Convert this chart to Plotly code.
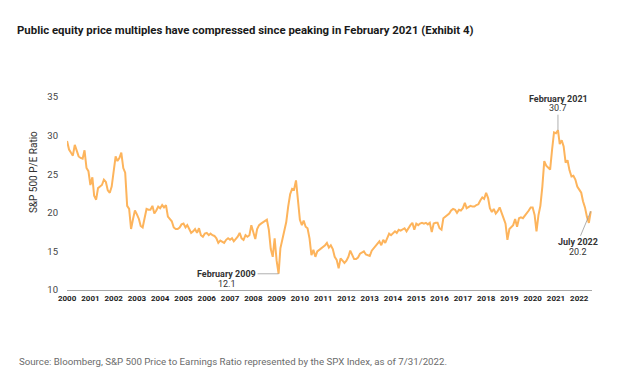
import pandas as pd
import plotly.graph_objects as go

# Monthly S&P 500 trailing P/E (Jan 2000 - Jul 2022)
pe_2000 = [29.3, 28.2, 27.8, 27.4, 28.8, 28.0, 27.3, 27.1, 27.0, 28.1, 25.8, 25.4]
pe_2001 = [23.6, 24.6, 22.2, 21.7, 23.2, 23.4, 23.6, 24.3, 24.0, 22.9, 22.6, 23.4]
pe_2002 = [25.6, 27.3, 26.7, 27.1, 27.8, 25.8, 25.2, 20.9, 20.5, 17.9, 19.2, 20.3]
pe_2003 = [19.8, 19.2, 18.3, 18.1, 19.3, 20.5, 20.4, 20.4, 20.9, 19.9, 20.3, 20.8]
pe_2004 = [20.6, 21.0, 20.7, 21.0, 19.5, 19.2, 18.9, 18.1, 17.9, 17.9, 18.1, 18.5]
pe_2005 = [18.6, 18.1, 18.4, 17.9, 17.4, 17.6, 17.9, 17.4, 18.0, 17.1, 16.9, 17.3]
pe_2006 = [17.4, 17.1, 17.3, 17.1, 17.0, 16.7, 16.1, 16.4, 16.2, 16.1, 16.5, 16.7]
pe_2007 = [16.5, 16.7, 16.3, 16.6, 16.9, 17.4, 16.7, 16.5, 17.1, 16.9, 17.1, 18.4]
pe_2008 = [17.6, 16.6, 17.9, 18.4, 18.6, 18.8, 19.0, 19.1, 17.8, 15.3, 14.3, 16.7]
pe_2009 = [13.8, 12.1, 15.4, 16.6, 17.6, 18.8, 20.8, 22.4, 23.1, 23.0, 24.2, 21.8]
pe_2010 = [19.1, 18.4, 19.0, 18.2, 18.0, 16.7, 14.5, 15.2, 14.3, 15.0, 15.2, 15.3]
pe_2011 = [15.5, 15.8, 16.1, 15.5, 15.8, 15.3, 14.3, 13.9, 12.8, 14.1, 13.8, 13.5]
pe_2012 = [13.8, 14.3, 15.1, 14.6, 14.0, 14.0, 14.2, 14.7, 14.8, 15.0, 14.6, 14.5]
pe_2013 = [14.4, 15.1, 15.4, 15.7, 16.1, 16.3, 15.8, 16.5, 16.1, 16.7, 17.3, 17.1]
pe_2014 = [17.3, 17.6, 17.4, 17.8, 17.7, 17.8, 18.0, 17.6, 18.1, 18.4, 18.7, 17.8]
pe_2015 = [18.6, 18.4, 18.6, 18.7, 18.6, 18.7, 18.5, 18.7, 17.5, 18.6, 18.7, 18.7]
pe_2016 = [18.0, 17.8, 19.3, 19.5, 19.6, 19.9, 20.3, 20.5, 20.4, 20.0, 20.4, 20.3]
pe_2017 = [20.6, 21.3, 20.6, 20.8, 20.9, 20.8, 20.8, 21.0, 21.1, 21.6, 22.0, 21.8]
pe_2018 = [22.6, 21.9, 20.6, 20.1, 20.5, 19.9, 20.2, 20.7, 20.1, 19.3, 18.6, 16.5]
pe_2019 = [17.9, 18.1, 18.4, 19.2, 18.2, 19.3, 19.4, 19.3, 19.6, 19.9, 20.3, 20.7]
pe_2020 = [20.7, 19.7, 17.6, 19.7, 20.9, 23.4, 26.7, 26.1, 25.8, 25.6, 28.2, 30.4]
pe_2021 = [30.3, 30.7, 28.9, 29.4, 28.6, 26.5, 26.8, 25.5, 24.7, 24.8, 24.3, 23.4]
pe_2022 = [23.0, 22.6, 21.5, 20.7, 19.5, 18.7, 20.2]

year_labels = [str(y) for y in range(2000, 2023)]
y_ticks = [10, 15, 20, 25, 30, 35]

title_text = "Public equity price multiples have compressed since peaking in February 2021 (Exhibit 4)"
y_title = "S&P 500 P/E Ratio"
source_text = "Source: Bloomberg, S&P 500 Price to Earnings Ratio represented by the SPX Index, as of 7/31/2022."

values = (pe_2000 + pe_2001 + pe_2002 + pe_2003 + pe_2004 + pe_2005 + pe_2006 + pe_2007
          + pe_2008 + pe_2009 + pe_2010 + pe_2011 + pe_2012 + pe_2013 + pe_2014 + pe_2015
          + pe_2016 + pe_2017 + pe_2018 + pe_2019 + pe_2020 + pe_2021 + pe_2022)
dates = pd.date_range("2000-01-01", periods=len(values), freq="MS")

FONT = "Roboto"
LINE_C = "#FDB45C"
ARROW_C = "#9a9a9a"
TXT_C = "#333333"

fig = go.Figure()
fig.add_trace(go.Scatter(x=dates, y=values, mode="lines",
                         line=dict(color=LINE_C, width=2), hoverinfo="skip",
                         showlegend=False))

# key points
i_min09 = dates.get_loc(pd.Timestamp("2009-02-01"))
i_peak = values.index(max(values))
i_last = len(values) - 1

ann = []
# February 2021 peak
ann.append(dict(x=dates[i_peak], y=values[i_peak], text=f"{values[i_peak]:.1f}",
                showarrow=True, arrowhead=0, arrowwidth=0.8, arrowcolor=ARROW_C,
                ax=0, ay=-22, font=dict(family=FONT, size=9, color=TXT_C)))
ann.append(dict(x=dates[i_peak], y=values[i_peak], text="<b>February 2021</b>",
                showarrow=False, yshift=31, xshift=1,
                font=dict(family=FONT, size=9, color=TXT_C)))
# February 2009 trough
ann.append(dict(x=dates[i_min09], y=values[i_min09], text="<b>February 2009</b>",
                showarrow=True, arrowhead=0, arrowwidth=0.8, arrowcolor=ARROW_C,
                ax=-52, ay=0, font=dict(family=FONT, size=9, color=TXT_C)))
ann.append(dict(x=dates[i_min09], y=values[i_min09], text=f"{values[i_min09]:.1f}",
                showarrow=False, xshift=-52, yshift=-10,
                font=dict(family=FONT, size=9, color=TXT_C)))
# July 2022
ann.append(dict(x=dates[i_last], y=values[i_last], text="<b>July 2022</b>",
                showarrow=True, arrowhead=0, arrowwidth=0.8, arrowcolor=ARROW_C,
                ax=-13, ay=31, font=dict(family=FONT, size=9, color=TXT_C)))
ann.append(dict(x=dates[i_last], y=values[i_last], text=f"{values[i_last]:.1f}",
                showarrow=False, xshift=-13, yshift=-41,
                font=dict(family=FONT, size=9, color=TXT_C)))
# y axis title
ann.append(dict(xref="paper", yref="paper", x=-0.064, y=0.613, text=y_title,
                textangle=-90, showarrow=False, xanchor="center", yanchor="middle",
                font=dict(family=FONT, size=10, color=TXT_C)))
# source
ann.append(dict(xref="paper", yref="paper", x=-0.0952, y=-0.3725, text=source_text,
                showarrow=False, xanchor="left", yanchor="middle",
                font=dict(family=FONT, size=9.7, color="#6b6b6b")))

fig.update_layout(
    width=624, height=385,
    paper_bgcolor="white", plot_bgcolor="white",
    margin=dict(l=67, r=32, t=97, b=95),
    title=dict(text=title_text, x=17 / 624, xanchor="left", xref="container",
               y=1 - 30 / 385, yanchor="middle", yref="container",
               font=dict(family=FONT, size=11.4, color="#1a1a1a", weight="bold")),
    annotations=ann,
    xaxis=dict(type="date", range=["1999-12-31", "2022-07-20"],
               tickvals=[pd.Timestamp(f"{y}-01-01") for y in year_labels],
               ticktext=year_labels, showgrid=False, zeroline=False,
               showline=True, linecolor="#a8a8a8", linewidth=1, ticks="",
               tickfont=dict(family=FONT, size=8, color="#222222", weight="bold")),
    yaxis=dict(range=[10, 35], tickvals=y_ticks, ticktext=[str(t) for t in y_ticks],
               showgrid=False, zeroline=False, showline=False, ticks="",
               ticklabelstandoff=8,
               tickfont=dict(family=FONT, size=9.5, color="#444444")),
)

fig.write_html("out.html", config={"displayModeBar": False},
               post_script="document.body.style.margin='0';document.body.style.overflow='hidden';")
